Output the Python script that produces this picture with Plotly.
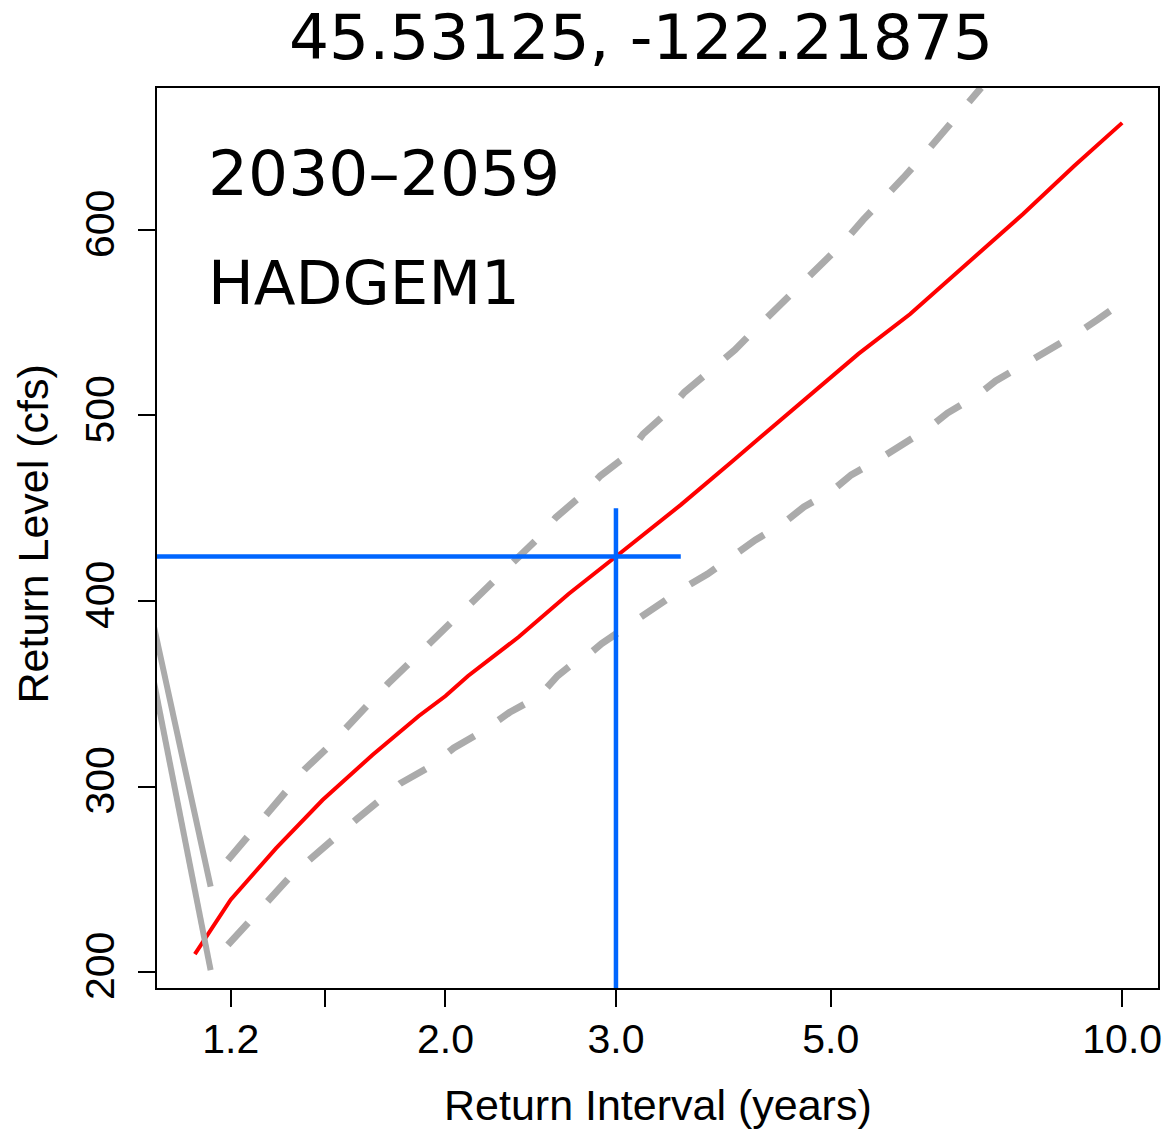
import plotly.graph_objects as go

# Fitted return-level curve (return interval in years, level in cfs)
fit_interval = [1.102, 1.2, 1.337, 1.493, 1.681, 1.877, 2.0, 2.11, 2.38, 2.68,
                3.0, 3.5, 3.96, 4.58, 5.34, 6.04, 6.83, 7.9, 8.92, 10.0]
fit_level = [209.7, 239.0, 266.8, 292.7, 317.0, 338.0, 348.8, 359.6, 380.6, 403.8,
             424.0, 451.8, 475.5, 503.5, 533.2, 554.7, 579.5, 608.6, 634.5, 657.7]

# Upper confidence bound
upper_interval = [1.192, 1.249, 1.31, 1.371, 1.432, 1.51, 1.575, 1.663, 1.745, 1.848,
                  1.935, 2.05, 2.14, 2.27, 2.36, 2.5, 2.6, 2.76, 2.89, 3.08,
                  3.2, 3.37, 3.53, 3.72, 3.98, 4.18, 4.42, 4.66, 4.86, 5.15,
                  5.4, 5.67, 5.94, 6.22, 6.52, 6.83, 7.15]
upper_level = [260.4, 272.8, 285.0, 297.6, 309.4, 320.8, 331.5, 344.0, 355.5, 368.0,
               378.4, 390.3, 400.7, 412.4, 422.0, 434.5, 445.0, 456.6, 467.4, 478.5,
               490.0, 500.5, 512.5, 523.0, 535.3, 546.6, 559.0, 570.4, 580.6, 593.0,
               605.4, 616.7, 628.0, 639.6, 652.0, 664.4, 676.7]

# Lower confidence bound
lower_interval = [1.192, 1.256, 1.311, 1.38, 1.447, 1.534, 1.62, 1.705, 1.795, 1.932,
                  2.04, 2.18, 2.33, 2.5, 2.61, 2.72, 2.78, 2.9, 3.11, 3.27,
                  3.5, 3.73, 3.96, 4.18, 4.45, 4.69, 5.0, 5.25, 5.57, 5.94,
                  6.3, 6.6, 7.07, 7.4, 7.9, 8.4, 8.93, 9.44, 10.0]
lower_level = [214.6, 227.5, 239.0, 251.0, 260.5, 272.5, 282.5, 292.0, 301.6, 311.0,
               320.8, 329.5, 340.0, 348.8, 359.6, 367.0, 369.0, 377.0, 387.8, 395.8,
               406.0, 414.5, 423.7, 432.9, 441.3, 450.7, 458.8, 468.0, 475.5, 484.6,
               492.9, 501.3, 510.5, 518.6, 527.0, 535.3, 543.4, 551.8, 561.0]

# Short solid grey segments near the left edge
seg_a_interval = [1.0, 1.144]
seg_a_level = [386.0, 246.0]
seg_b_interval = [1.0, 1.144]
seg_b_level = [356.0, 201.0]

# Crosshair marking the chosen return interval
cross_interval = 3.0
cross_level = 424.0
hline_interval = [1.0, 3.5]
vline_level = [150.0, 450.0]

x_ticks = [1.2, 1.5, 2.0, 3.0, 5.0, 10.0]
x_tick_text = ["1.2", "", "2.0", "3.0", "5.0", "10.0"]
y_ticks = [200, 300, 400, 500, 600]

title_text = "45.53125, -122.21875"
period_text = "2030–2059"
model_text = "HADGEM1"

GREY = "#ABABAB"
BLUE = "#0066FF"
tick_font = dict(family="Liberation Sans, Arial, sans-serif", size=41, color="black")
big_font = dict(family="DejaVu Sans, sans-serif", size=63, color="black")

fig = go.Figure()
fig.add_trace(go.Scatter(x=fit_interval, y=fit_level, mode="lines",
                         line=dict(color="#FF0000", width=4)))
fig.add_trace(go.Scatter(x=upper_interval, y=upper_level, mode="lines",
                         line=dict(color=GREY, width=7, dash="30px,29px")))
fig.add_trace(go.Scatter(x=lower_interval, y=lower_level, mode="lines",
                         line=dict(color=GREY, width=7, dash="30px,29px")))
fig.add_trace(go.Scatter(x=seg_a_interval, y=seg_a_level, mode="lines",
                         line=dict(color=GREY, width=6)))
fig.add_trace(go.Scatter(x=seg_b_interval, y=seg_b_level, mode="lines",
                         line=dict(color=GREY, width=6)))
fig.add_trace(go.Scatter(x=hline_interval, y=[cross_level, cross_level], mode="lines",
                         line=dict(color=BLUE, width=4.5)))
fig.add_trace(go.Scatter(x=[cross_interval, cross_interval], y=vline_level, mode="lines",
                         line=dict(color=BLUE, width=4.5)))

axis_common = dict(showgrid=False, zeroline=False, showline=True, linewidth=2,
                   linecolor="black", mirror=True, ticks="outside", ticklen=17,
                   tickwidth=2, tickcolor="black", tickfont=tick_font)

fig.update_layout(
    width=1173, height=1132, autosize=False,
    margin=dict(l=157, r=11, t=88, b=144, pad=0),
    paper_bgcolor="white", plot_bgcolor="white",
    showlegend=False,
    xaxis=dict(type="log", range=[0.00305, 1.037], tickvals=x_ticks,
               ticktext=x_tick_text, ticklabelstandoff=-3, **axis_common),
    yaxis=dict(range=[191.4, 676.5], tickvals=y_ticks, tickangle=-90,
               ticklabelstandoff=8, **axis_common),
    annotations=[
        dict(text=title_text, x=0.484, y=1.056, xref="paper", yref="paper",
             xanchor="center", yanchor="middle", showarrow=False, font=big_font),
        dict(text=period_text, x=0.049, y=0.905, xref="paper", yref="paper",
             xanchor="left", yanchor="middle", showarrow=False, font=big_font),
        dict(text=model_text, x=0.049, y=0.784, xref="paper", yref="paper",
             xanchor="left", yanchor="middle", showarrow=False,
             font=dict(family="DejaVu Sans, sans-serif", size=61, color="black")),
        dict(text="Return Interval (years)", x=0.5, y=-0.13, xref="paper", yref="paper",
             xanchor="center", yanchor="middle", showarrow=False,
             font=dict(family="Liberation Sans, Arial, sans-serif", size=43, color="black")),
        dict(text="Return Level (cfs)", x=-0.1234, y=0.5044, xref="paper", yref="paper",
             xanchor="center", yanchor="middle", textangle=-90, showarrow=False,
             font=dict(family="Liberation Sans, Arial, sans-serif", size=43, color="black")),
    ],
)

fig.write_html("out.html")
